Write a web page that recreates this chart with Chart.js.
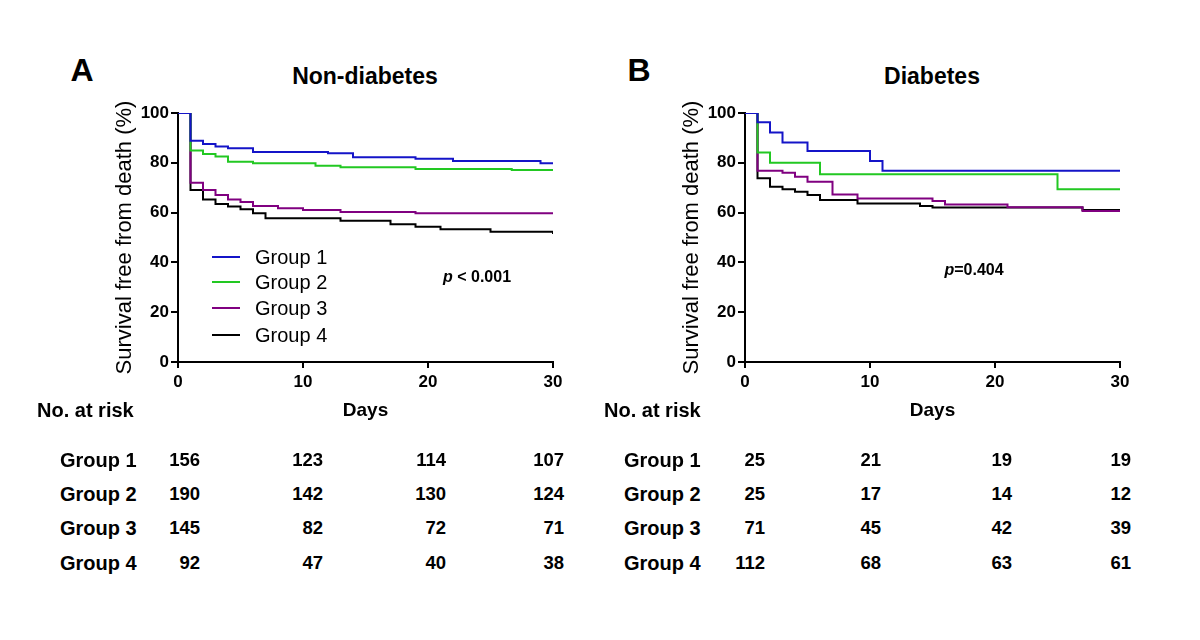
<!DOCTYPE html>
<html>
<head>
<meta charset="utf-8">
<script src="https://cdn.jsdelivr.net/npm/chart.js@4"></script>
<style>
  body { margin: 0; background: #fff; }
  #wrap { position: relative; width: 1200px; height: 640px; font-family: "Liberation Sans", Arial, sans-serif; color: #000; }
  canvas { position: absolute; }
  .t { position: absolute; white-space: nowrap; line-height: 1; }
</style>
</head>
<body>
<div id="wrap">
  <canvas id="chartA" width="480" height="335" style="left:100px;top:95px"></canvas>
  <canvas id="chartB" width="480" height="335" style="left:667px;top:95px"></canvas>
</div>
<script>
const groups = ["Group 1", "Group 2", "Group 3", "Group 4"];
const xTicks = [0, 10, 20, 30];

// Non-diabetes curves (day, % survival)
const nonDiabDays1 = [0, 1, 2, 3, 4, 6, 12, 14, 19, 22, 29, 30];
const nonDiabSurv1 = [100, 88.9, 87.6, 86.5, 85.8, 84.3, 83.8, 82.2, 81.6, 80.7, 79.8, 79.8];
const nonDiabDays2 = [0, 1, 2, 3, 4, 6, 11, 13, 19, 26.7, 30];
const nonDiabSurv2 = [100, 84.9, 83.5, 82.5, 80.4, 79.8, 78.8, 78.2, 77.5, 77.1, 77.1];
const nonDiabDays3 = [0, 1, 2, 3, 4, 5, 6, 8, 10, 13, 19, 30];
const nonDiabSurv3 = [100, 72.0, 69.1, 67.1, 65.3, 64.3, 62.7, 61.7, 61.0, 60.2, 59.7, 59.7];
const nonDiabDays4 = [0, 1, 2, 3, 4, 5, 6, 7, 13, 17, 19, 21, 25, 30];
const nonDiabSurv4 = [100, 69.1, 65.3, 63.5, 62.4, 61.3, 59.7, 57.7, 56.7, 55.3, 54.3, 53.3, 52.3, 51.4];

// Diabetes curves
const diabDays1 = [0, 1, 2, 3, 5, 10, 11, 30];
const diabSurv1 = [100, 96.3, 92.2, 88.2, 84.7, 80.7, 76.8, 76.8];
const diabDays2 = [0, 1, 2, 6, 25, 30];
const diabSurv2 = [100, 84.1, 80.0, 75.4, 69.4, 69.4];
const diabDays3 = [0, 1, 3, 4, 5, 7, 9, 15, 16, 21, 27, 30];
const diabSurv3 = [100, 76.8, 76.0, 74.4, 72.4, 67.3, 65.7, 64.7, 63.3, 62.1, 60.6, 60.6];
const diabDays4 = [0, 1, 2, 3, 4, 5, 6, 9, 14, 15, 27, 30];
const diabSurv4 = [100, 73.8, 70.4, 69.4, 68.4, 67.1, 65.1, 63.7, 62.7, 62.0, 61.0, 61.0];

// numbers at risk at day 0, 10, 20, 30
const nonDiabRisk1 = [156, 123, 114, 107];
const nonDiabRisk2 = [190, 142, 130, 124];
const nonDiabRisk3 = [145, 82, 72, 71];
const nonDiabRisk4 = [92, 47, 40, 38];
const diabRisk1 = [25, 21, 19, 19];
const diabRisk2 = [25, 17, 14, 12];
const diabRisk3 = [71, 45, 42, 39];
const diabRisk4 = [112, 68, 63, 61];

const lineColors = ["#1414c8", "#22c822", "#800080", "#000000"];
const FONT = '"Liberation Sans", Arial, sans-serif';
const wrap = document.getElementById("wrap");

const addText = (html, x, y, size, opts = {}) => {
  const d = document.createElement("div");
  d.className = "t";
  d.innerHTML = html;
  d.style.left = x + "px";
  d.style.top = y + "px";
  d.style.fontSize = size + "px";
  d.style.fontWeight = opts.bold === false ? "normal" : "bold";
  const ax = opts.align === "right" ? "-100%" : opts.align === "left" ? "0" : "-50%";
  d.style.transform = `translate(${ax}, -50%)`;
  wrap.appendChild(d);
};

const toPoints = (days, surv) => days.map((d, i) => ({ x: d, y: surv[i] }));

const makeChart = (id, series) => {
  const datasets = series.map((s, i) => ({
    label: groups[i],
    data: toPoints(s[0], s[1]),
    borderColor: lineColors[i],
    borderWidth: 2,
    pointRadius: 0,
    stepped: true,
    fill: false,
    order: i,
  }));
  return new Chart(document.getElementById(id), {
    type: "line",
    data: { datasets },
    options: {
      responsive: false,
      animation: false,
      devicePixelRatio: 1,
      layout: { padding: { top: 18, right: 27, bottom: 0, left: 0 } },
      plugins: { legend: { display: false }, tooltip: { enabled: false } },
      scales: {
        x: {
          type: "linear",
          min: 0,
          max: 30,
          afterFit: (s) => { s.height = 68; },
          afterBuildTicks: (s) => { s.ticks = xTicks.map((v) => ({ value: v })); },
          ticks: { color: "#000", font: { family: FONT, size: 17, weight: "bold" }, padding: 4 },
          grid: { drawOnChartArea: false, tickLength: 6, color: "#000", lineWidth: 2 },
          border: { color: "#000", width: 2 },
          title: { display: true, text: "Days", color: "#000", font: { family: FONT, size: 19, weight: "bold" }, padding: { top: 0, bottom: 8 } },
        },
        y: {
          min: 0,
          max: 100,
          afterFit: (s) => { s.width = 78; },
          ticks: { stepSize: 20, color: "#000", font: { family: FONT, size: 17, weight: "bold" }, padding: 2 },
          grid: { drawOnChartArea: false, tickLength: 7, color: "#000", lineWidth: 2 },
          border: { color: "#000", width: 2 },
          title: { display: true, text: "Survival free from death (%)", color: "#000", font: { family: FONT, size: 22 }, padding: { top: 12, bottom: 0 } },
        },
      },
    },
  });
};

makeChart("chartA", [
  [nonDiabDays1, nonDiabSurv1],
  [nonDiabDays2, nonDiabSurv2],
  [nonDiabDays3, nonDiabSurv3],
  [nonDiabDays4, nonDiabSurv4],
]);
makeChart("chartB", [
  [diabDays1, diabSurv1],
  [diabDays2, diabSurv2],
  [diabDays3, diabSurv3],
  [diabDays4, diabSurv4],
]);

// panel letters and titles
addText("A", 82, 70, 32);
addText("Non-diabetes", 365, 76, 23);
addText("B", 639, 70, 32);
addText("Diabetes", 932, 76, 23);

// legend inside panel A
const legendY = [257, 282, 308, 335];
groups.forEach((g, i) => {
  const ln = document.createElement("div");
  ln.style.cssText = `position:absolute;left:212px;top:${legendY[i] - 1}px;width:28px;height:2px;background:${lineColors[i]}`;
  wrap.appendChild(ln);
  addText(g, 255, legendY[i], 20, { align: "left", bold: false });
});

addText("<i>p</i> &lt; 0.001", 477, 277, 16);
addText("<i>p</i>=0.404", 974, 270, 16);

// number at risk tables
addText("No. at risk", 37, 410, 20, { align: "left" });
addText("No. at risk", 604, 410, 20, { align: "left" });
const rowY = [460, 494, 528, 563];
const colA = [200, 323, 446, 564];
const colB = [765, 881, 1012, 1131];
const risksA = [nonDiabRisk1, nonDiabRisk2, nonDiabRisk3, nonDiabRisk4];
const risksB = [diabRisk1, diabRisk2, diabRisk3, diabRisk4];
groups.forEach((g, i) => {
  addText(g, 60, rowY[i], 20, { align: "left" });
  addText(g, 624, rowY[i], 20, { align: "left" });
  risksA[i].forEach((n, j) => addText(String(n), colA[j], rowY[i], 18.5, { align: "right" }));
  risksB[i].forEach((n, j) => addText(String(n), colB[j], rowY[i], 18.5, { align: "right" }));
});
</script>
</body>
</html>
